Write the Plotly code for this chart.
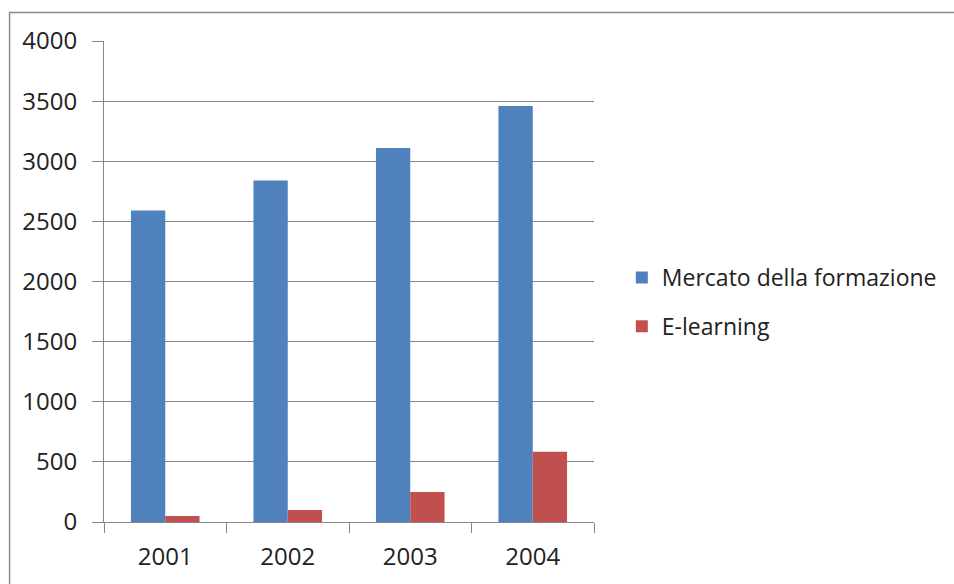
import plotly.graph_objects as go

years = ["2001", "2002", "2003", "2004"]
mercato = [2590, 2840, 3110, 3460]
elearning = [50, 100, 250, 585]
series_names = ["Mercato della formazione", "E-learning"]
colors = ["#4F81BD", "#C0504D"]

FONT = "Open Sans"
GRAY = "#868686"
TXT = "#222222"

fig = go.Figure()
fig.add_trace(go.Bar(x=years, y=mercato, name=series_names[0],
                     marker=dict(color=colors[0], line=dict(width=0)),
                     legendgroup="a"))
fig.add_trace(go.Bar(x=years, y=elearning, name=series_names[1],
                     marker=dict(color=colors[1], line=dict(width=0)),
                     legendgroup="b"))

L, R, T, B = 104, 357, 41, 62
W, H = 954, 584
pw = W - L - R
ph = H - T - B

def px(x):
    return (x - L) / pw

def py(y):
    return (H - B - y) / ph

fig.update_layout(
    width=W, height=H,
    margin=dict(l=L, r=R, t=T, b=B, pad=0),
    paper_bgcolor="white", plot_bgcolor="white",
    barmode="group", bargap=0.44, bargroupgap=0,
    font=dict(family=FONT, size=23, color=TXT),
    showlegend=True,
    legend=dict(x=px(625), y=py(256), xanchor="left", yanchor="top",
                traceorder="grouped", tracegroupgap=16, itemwidth=30,
                font=dict(family=FONT, size=23, color=TXT),
                bgcolor="rgba(0,0,0,0)"),
    xaxis=dict(type="category", showgrid=False, showline=True, linecolor=GRAY,
               linewidth=1, ticks="outside", tickson="boundaries", ticklen=10,
               tickcolor=GRAY, tickwidth=1, zeroline=False, ticklabelstandoff=13,
               tickfont=dict(family=FONT, size=24, color=TXT)),
    yaxis=dict(range=[0, 4000], dtick=500, tick0=0, showgrid=True, gridcolor=GRAY,
               gridwidth=1, showline=True, linecolor=GRAY, linewidth=1,
               ticks="outside", ticklen=11, tickcolor=GRAY, tickwidth=1,
               zeroline=False, ticklabelstandoff=10,
               tickfont=dict(family=FONT, size=24, color=TXT)),
    shapes=[dict(type="rect", xref="paper", yref="paper",
                 x0=px(9), x1=px(970), y0=py(12.5), y1=py(600),
                 line=dict(color="#8a8a8a", width=1.5), fillcolor="rgba(0,0,0,0)",
                 layer="below")],
)

fig.write_html("out.html")
